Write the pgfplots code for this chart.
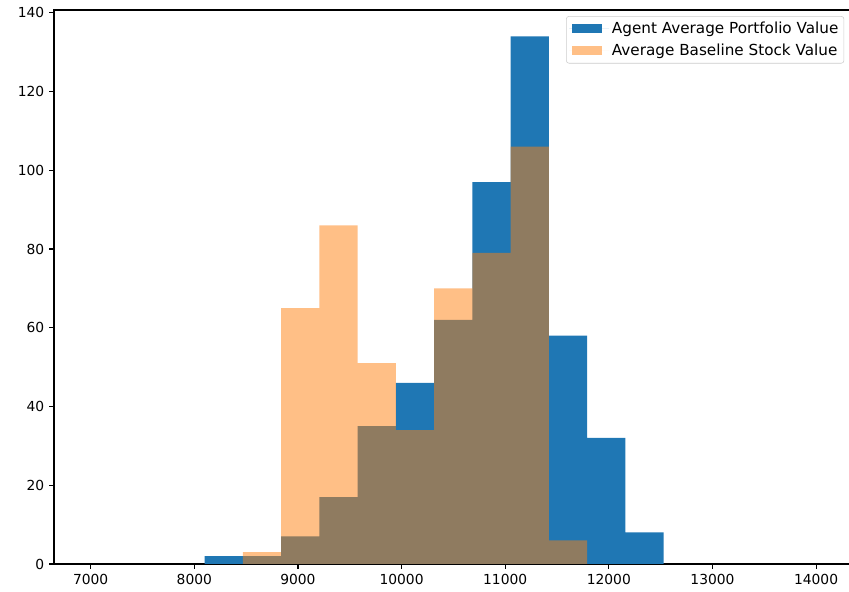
\documentclass[border=0pt]{standalone}
\usepackage{fontspec}
\setmainfont{DejaVu Sans}
\usepackage{pgfplots}
\pgfplotsset{compat=1.18}
\definecolor{mblue}{HTML}{1F77B4}
\definecolor{morange}{HTML}{FF7F0E}
\definecolor{legorange}{HTML}{FFBF86}
\definecolor{legedge}{HTML}{CCCCCC}
\begin{document}
\fontsize{10pt}{12pt}\selectfont
\begin{tikzpicture}
\useasboundingbox (-39.03pt,-20.24pt) rectangle (574.55pt,407.6pt);
\begin{axis}[
  at={(0pt,0pt)}, anchor=south west,
  scale only axis,
  width=576pt, height=400.4pt,
  xmin=6646, xmax=14337,
  ymin=0, ymax=140.7,
  xtick={7000,8000,...,14000},
  ytick={0,20,...,140},
  scaled x ticks=false,
  tick align=outside,
  xtick pos=bottom, ytick pos=left,
  major tick length=3.5pt,
  every tick/.style={black, line width=0.8pt},
  axis line style={black, line width=0.8pt},
  /pgf/number format/assume math mode=true,
  /pgf/number format/1000 sep={},
  tick label style={font=\fontsize{10pt}{12pt}\selectfont},
  xticklabel style={yshift=-0.5pt},
  legend cell align=left,
  legend image code/.code={\fill[sharp corners, #1, fill opacity=1] (2pt,-3.2pt) rectangle (24pt,3.2pt); \path (0pt,0pt) -- (29pt,0pt);},
  legend style={at={(axis description cs:0.9915,0.989)}, anchor=north east,
    draw=legedge, rounded corners=2pt, fill=white, fill opacity=0.8, text opacity=1,
    font=\fontsize{11pt}{13pt}\selectfont, inner xsep=2pt, inner ysep=2pt,
    row sep=2.2pt},
]
\addplot[ybar interval, fill=mblue, draw=none] coordinates {
(8100,2) (8469,2) (8838,7) (9207,17) (9576,35) (9945,46) (10314,62)
(10683,97) (11052,134) (11421,58) (11790,32) (12159,8) (12528,8)};
\addlegendentry{Agent Average Portfolio Value}
\addplot[ybar interval, fill=morange, fill opacity=0.5, draw=none,
  legend image post style={fill=legorange}] coordinates {
(8469,3) (8838,65) (9207,86) (9576,51) (9945,34) (10314,70)
(10683,79) (11052,106) (11421,6) (11790,6)};
\addlegendentry{Average Baseline Stock Value}
\end{axis}
\end{tikzpicture}
\end{document}
